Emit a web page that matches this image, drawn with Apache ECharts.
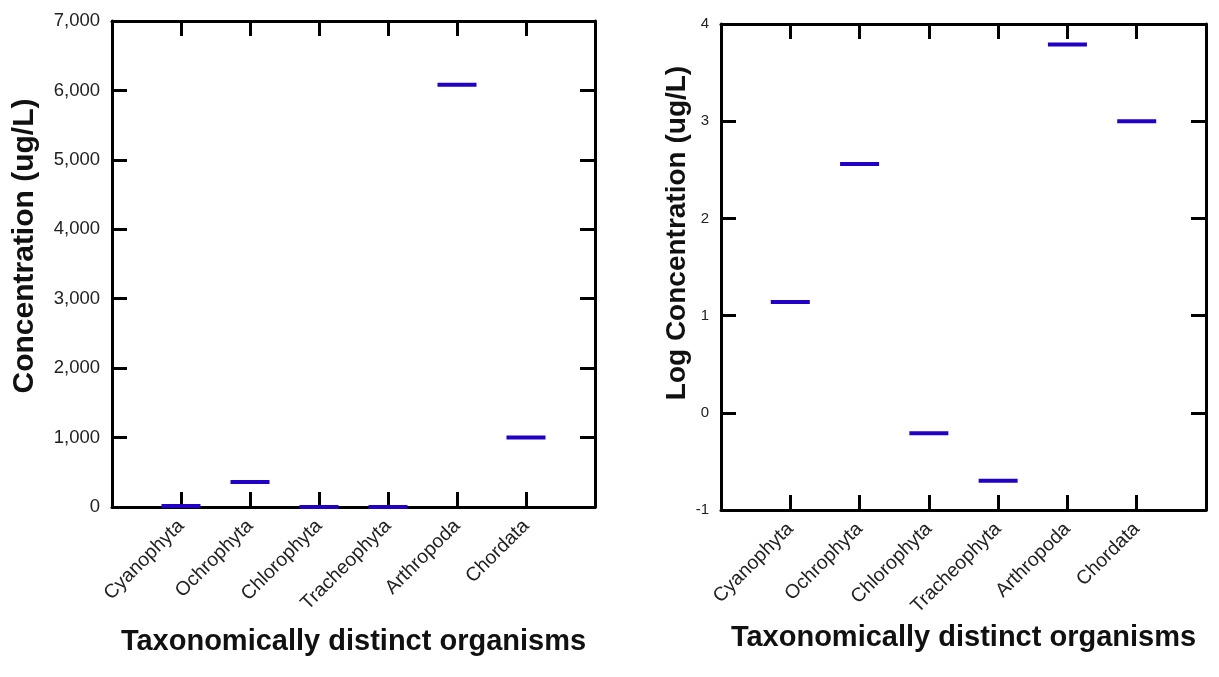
<!DOCTYPE html>
<html>
<head>
<meta charset="utf-8">
<script src="https://cdn.jsdelivr.net/npm/echarts@6/dist/echarts.min.js"></script>
<style>
html,body{margin:0;padding:0;background:#fff;}
#chart{width:1219px;height:677px;}
</style>
</head>
<body>
<div id="chart"></div>
<script>
// ---- data ----
const categories = ['Cyanophyta', 'Ochrophyta', 'Chlorophyta', 'Tracheophyta', 'Arthropoda', 'Chordata'];
const concentration = [13.8, 360, 0.62, 0.2, 6080, 1000];        // ug/L
const logConcentration = [1.14, 2.56, -0.21, -0.70, 3.79, 3.00];  // log10 ug/L
const leftYTicks = { min: 0, max: 7000, interval: 1000 };
const rightYTicks = { min: -1, max: 4, interval: 1 };
const xTitle = 'Taxonomically distinct organisms';
const leftYTitle = 'Concentration (ug/L)';
const rightYTitle = 'Log Concentration (ug/L)';

// ---- chart ----
const FONT = 'Arial, "Liberation Sans", sans-serif';
const lineStyle = { color: '#000', width: 3 };
const tickStyle = { show: true, inside: true, length: 15, lineStyle: { color: '#000', width: 3 } };
const catLabel = v => (v >= 1 && v <= categories.length && Number.isInteger(v)) ? categories[v - 1] : '';
const comma = v => v.toString().replace(/\B(?=(\d{3})+(?!\d))/g, ',');

function xAxes(gridIndex, nameGap) {
  return [
    {
      gridIndex, type: 'value', position: 'bottom', min: 0, max: categories.length + 1, interval: 1,
      axisLine: { show: true, onZero: false, lineStyle },
      axisTick: tickStyle,
      splitLine: { show: false },
      axisLabel: { rotate: 45, margin: 16, fontSize: 19.5, color: '#222', fontFamily: FONT, formatter: catLabel, showMinLabel: false, showMaxLabel: false },
      name: xTitle, nameLocation: 'middle', nameGap,
      nameTextStyle: { fontSize: 29, fontWeight: 'bold', color: '#111', fontFamily: FONT }
    },
    {
      gridIndex, type: 'value', position: 'top', min: 0, max: categories.length + 1, interval: 1,
      axisLine: { show: true, onZero: false, lineStyle },
      axisTick: tickStyle,
      splitLine: { show: false },
      axisLabel: { show: false }
    }
  ];
}
function yAxes(gridIndex, ticks, title, labelSize, fmt, nameGap, nameSize, lift) {
  return [
    {
      gridIndex, type: 'value', position: 'left', min: ticks.min, max: ticks.max, interval: ticks.interval,
      axisLine: { show: true, onZero: false, lineStyle },
      axisTick: tickStyle,
      splitLine: { show: false },
      axisLabel: { margin: 12, fontSize: labelSize, color: '#222', fontFamily: FONT, formatter: fmt },
      name: title, nameLocation: 'middle', nameGap,
      nameTextStyle: { fontSize: nameSize, fontWeight: 'bold', color: '#111', fontFamily: FONT, padding: [0, 0, 0, lift * 2] }
    },
    {
      gridIndex, type: 'value', position: 'right', min: ticks.min, max: ticks.max, interval: ticks.interval,
      axisLine: { show: true, onZero: false, lineStyle },
      axisTick: tickStyle,
      splitLine: { show: false },
      axisLabel: { show: false }
    }
  ];
}

const markStyle = { color: '#2200c4', opacity: 1 };
const option = {
  animation: false,
  backgroundColor: '#fff',
  grid: [
    { left: 112, top: 21, width: 483, height: 486 },
    { left: 721, top: 24, width: 485, height: 486 }
  ],
  xAxis: [...xAxes(0, 120), ...xAxes(1, 110)],
  yAxis: [
    ...yAxes(0, leftYTicks, leftYTitle, 18.5, v => comma(v), 72, 30, 18),
    ...yAxes(1, rightYTicks, rightYTitle, 15, v => String(v), 26, 28, 34)
  ],
  series: [
    {
      type: 'scatter', xAxisIndex: 0, yAxisIndex: 0,
      symbol: 'rect', symbolSize: [39, 4], itemStyle: markStyle,
      data: concentration.map((v, i) => [i + 1, v])
    },
    {
      type: 'scatter', xAxisIndex: 2, yAxisIndex: 2,
      symbol: 'rect', symbolSize: [39, 4], itemStyle: markStyle,
      data: logConcentration.map((v, i) => [i + 1, v])
    }
  ]
};
const chart = echarts.init(document.getElementById('chart'), null, { renderer: 'canvas' });
chart.setOption(option);
</script>
</body>
</html>
